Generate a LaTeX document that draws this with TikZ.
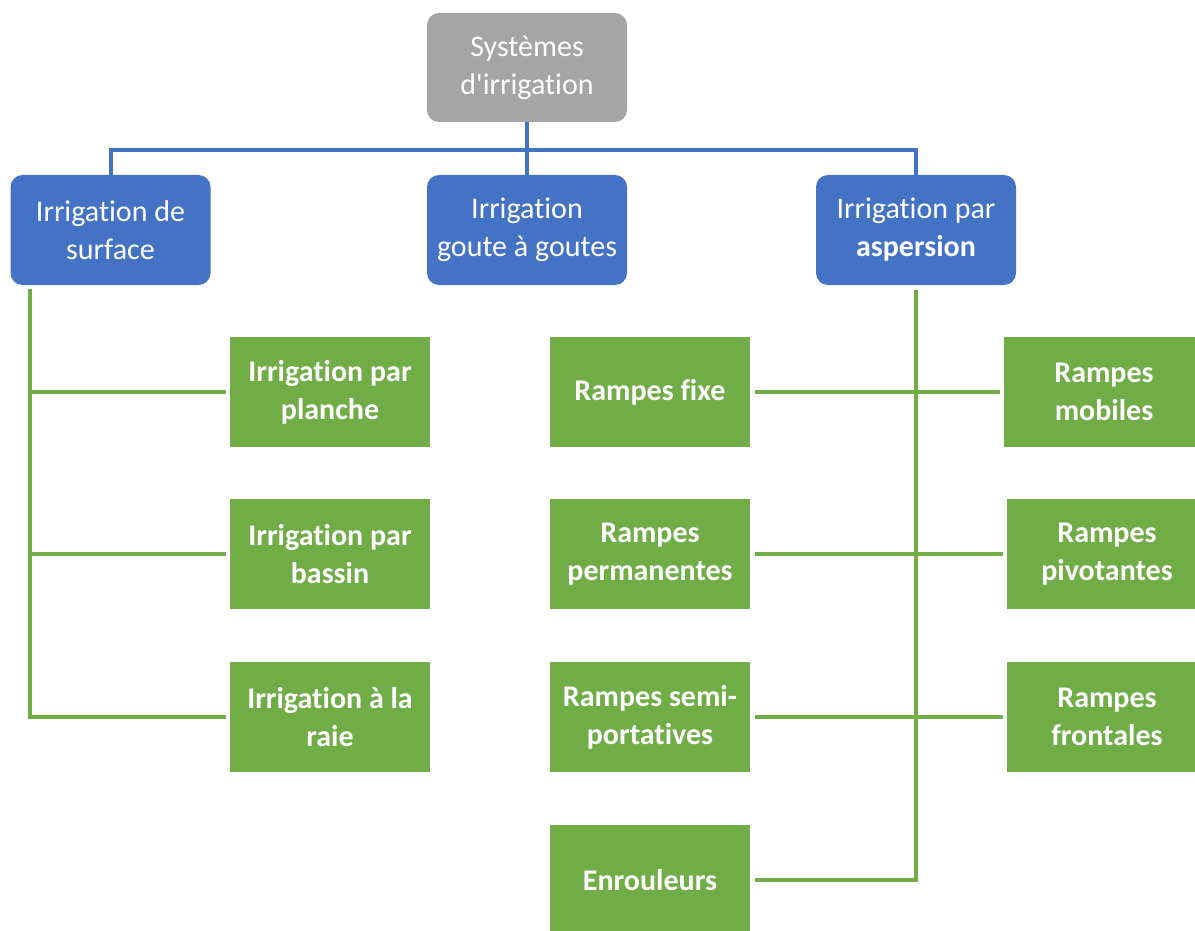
\documentclass[tikz,border=0pt]{standalone}
\usepackage{fontspec}
\setmainfont[Ligatures=NoCommon]{Carlito}
\definecolor{cgray}{HTML}{A5A5A5}
\definecolor{cblue}{HTML}{4472C4}
\definecolor{cgreen}{HTML}{70AD47}
\begin{document}
\begin{tikzpicture}[x=0.5pt,y=-0.5pt,
  base/.style={text=white,align=center,inner sep=0pt,
    font=\fontsize{15}{19}\selectfont,minimum width=100pt,minimum height=55pt},
  topbox/.style={base,fill=cgray,rounded corners=6pt},
  bluebox/.style={base,fill=cblue,rounded corners=6pt},
  greenbox/.style={base,fill=cgreen,font=\fontsize{15}{19}\selectfont\bfseries},
  bline/.style={draw=cblue,line width=2pt},
  gline/.style={draw=cgreen,line width=2pt}]
\useasboundingbox (0,0) rectangle (1195,931);
\begin{scope}
\clip (0,0) rectangle (1195,931);
\node[topbox,minimum height=54.5pt] (top) at (527,67.5) {Systèmes\\d\textquotesingle irrigation};
\node[bluebox] (surf) at (110.5,230) {Irrigation de\\surface};
\node[bluebox] (goutte) at (527,230) {Irrigation\\goute à goutes};
\node[bluebox] (asp) at (916,230) {Irrigation par\\\textbf{aspersion}};

\node[greenbox] (p1) at (330,392) {Irrigation par\\planche};
\node[greenbox] (p2) at (330,554) {Irrigation par\\bassin};
\node[greenbox] (p3) at (330,717) {Irrigation à la\\raie};

\node[greenbox] (m1) at (650,392) {Rampes fixe};
\node[greenbox] (m2) at (650,554) {Rampes\\permanentes};
\node[greenbox] (m3) at (650,717) {Rampes semi-\\portatives};
\node[greenbox] (m4) at (650,880) {Enrouleurs};

\node[greenbox] (r1) at (1104,392) {Rampes\\mobiles};
\node[greenbox] (r2) at (1107,554) {Rampes\\pivotantes};
\node[greenbox] (r3) at (1107,717) {Rampes\\frontales};

% blue connectors
\coordinate (bus) at (527,150);
\draw[bline] (top.south) -- (goutte.north);
\draw[bline] (surf.north) -- (surf.north|-bus) -- (asp.north|-bus) -- (asp.north);

% left green tree
\coordinate (ls) at (30,289);
\draw[gline] (ls) |- ([xshift=-2pt]p3.west);
\draw[gline] (ls|-p1.west) -- ([xshift=-2pt]p1.west);
\draw[gline] (ls|-p2.west) -- ([xshift=-2pt]p2.west);

% right green tree
\draw[gline] ([yshift=-2.5pt]asp.south) |- ([xshift=2.5pt]m4.east);
\draw[gline] ([xshift=2.5pt]m1.east) -- ([xshift=-2pt]r1.west);
\draw[gline] ([xshift=2.5pt]m2.east) -- ([xshift=-2pt]r2.west);
\draw[gline] ([xshift=2.5pt]m3.east) -- ([xshift=-2pt]r3.west);
\end{scope}
\end{tikzpicture}
\end{document}
